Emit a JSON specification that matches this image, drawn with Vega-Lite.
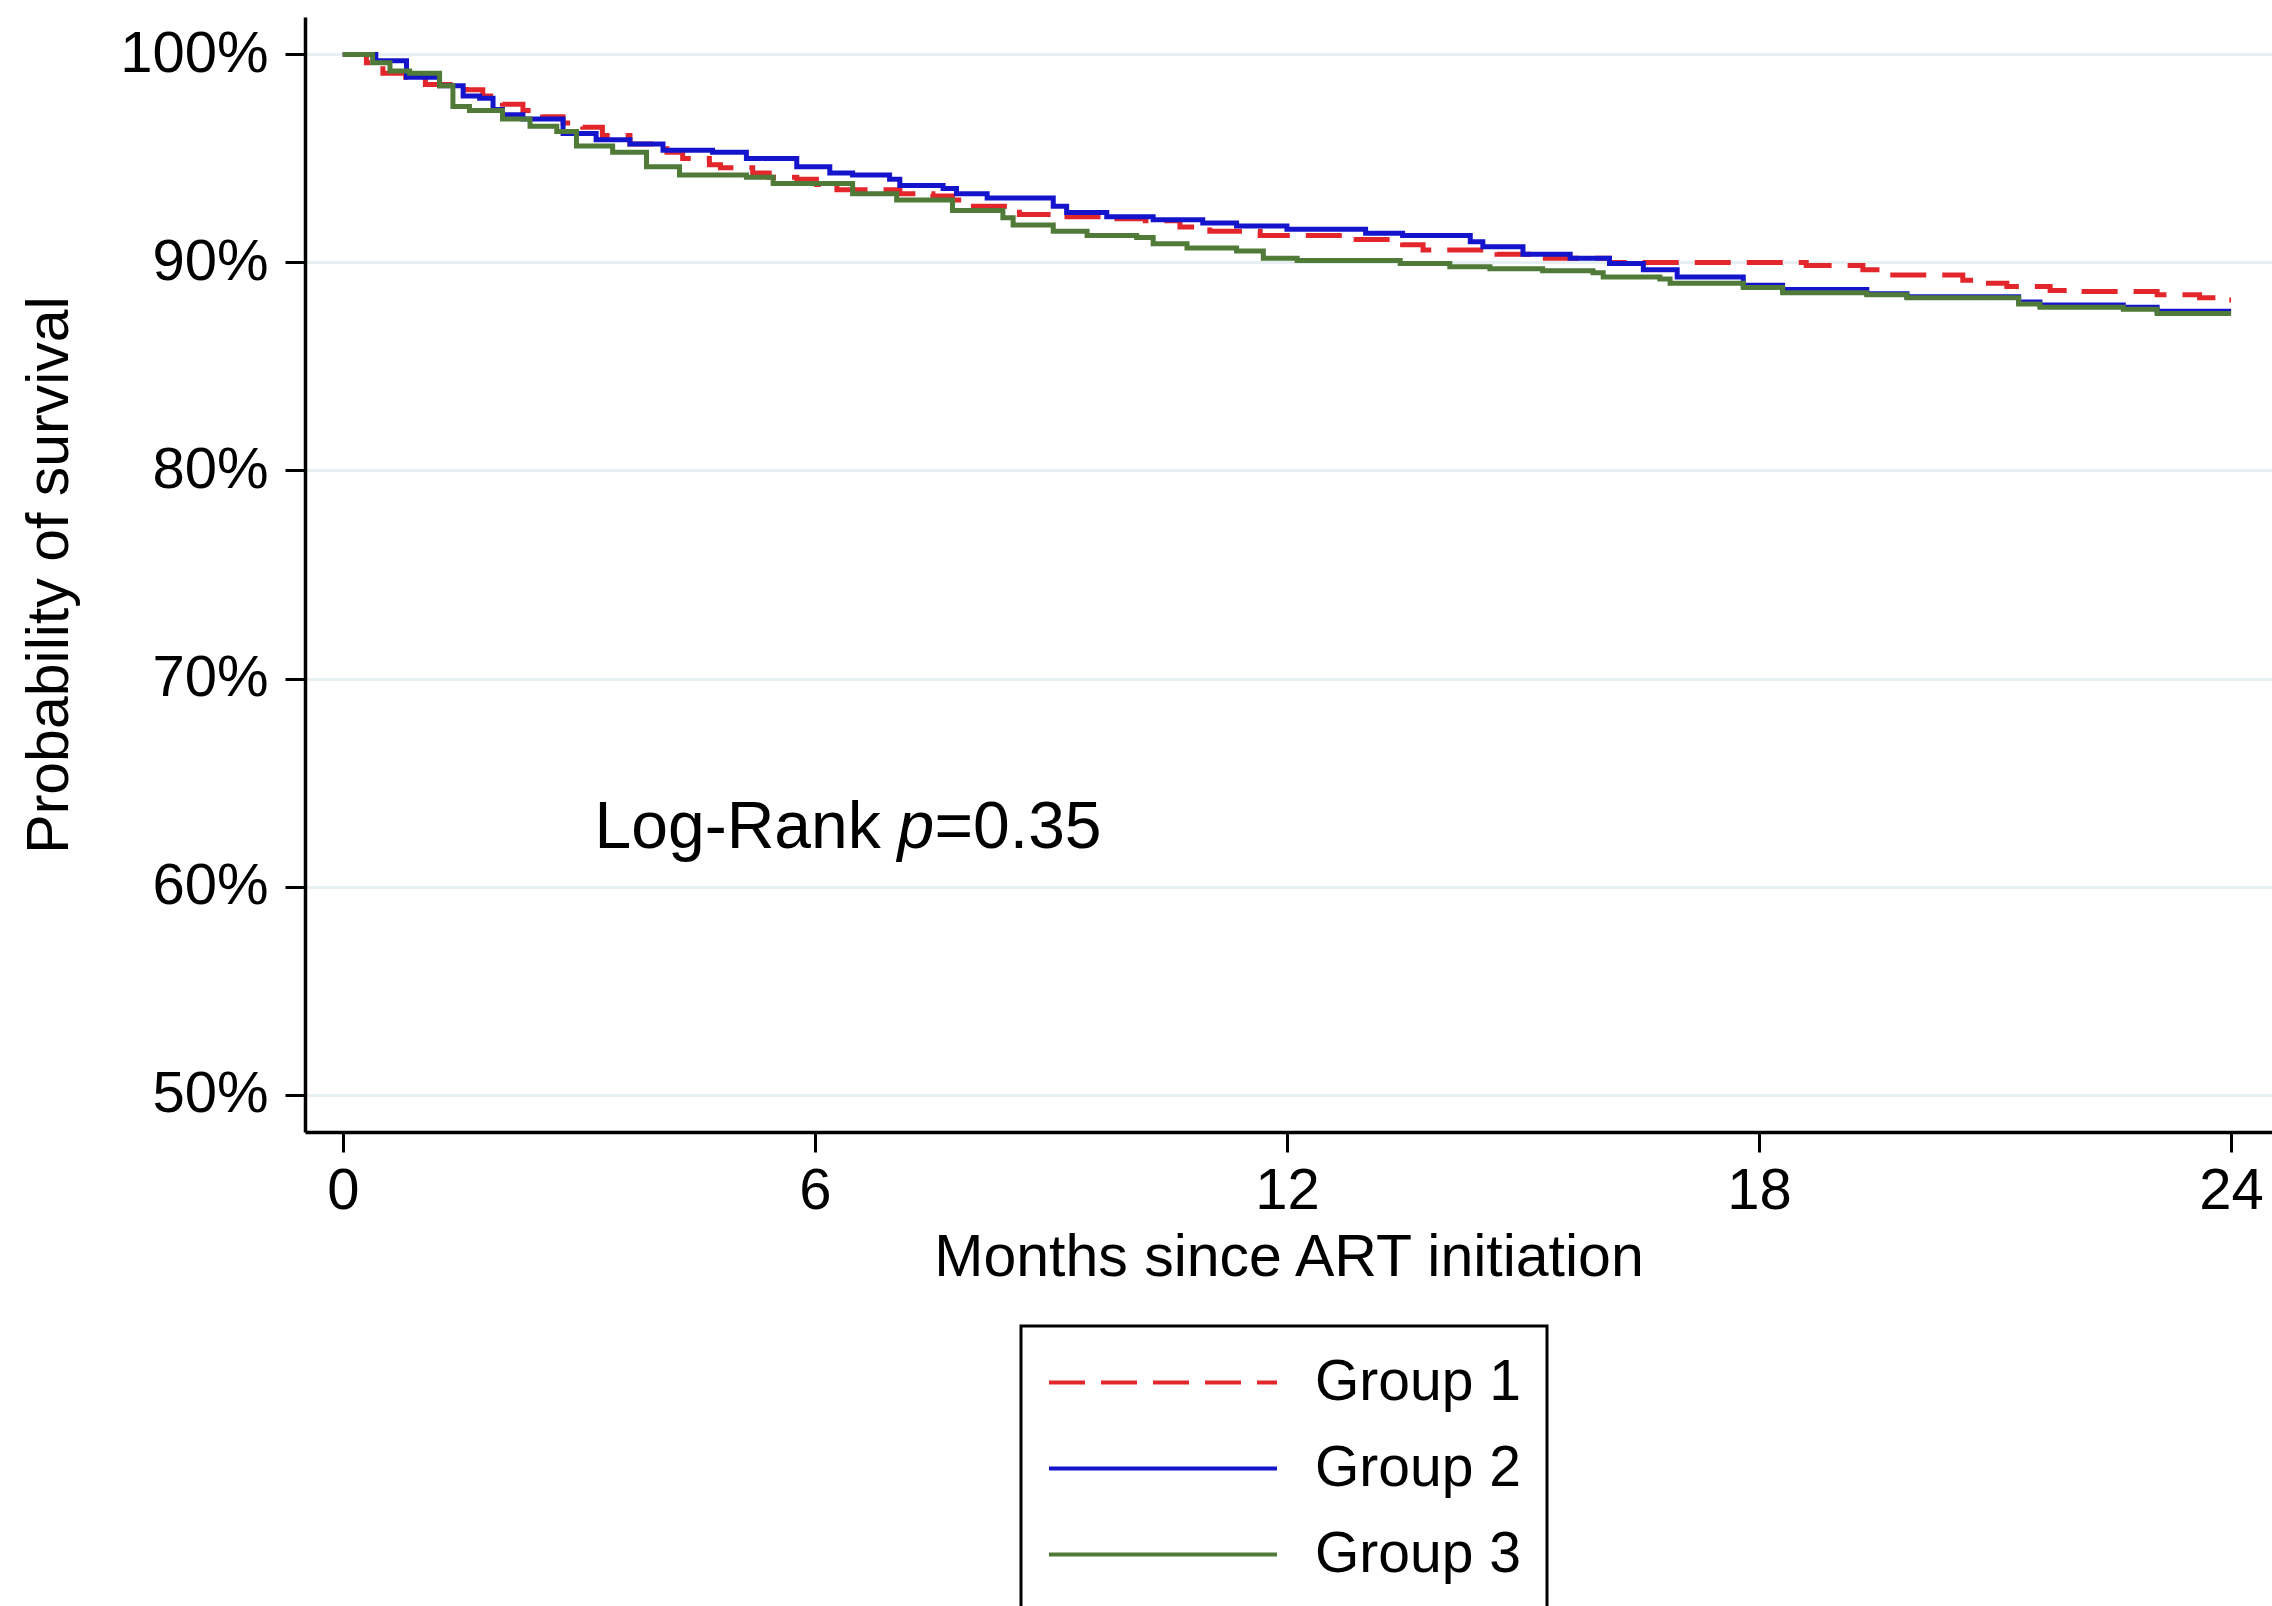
{
  "$schema": "https://vega.github.io/schema/vega-lite/v6.json",
  "autosize": {"type": "none"},
  "width": 1967,
  "height": 1115,
  "padding": {"left": 305, "top": 17, "right": 0, "bottom": 474},
  "background": "white",
  "config": {
    "view": {"stroke": null},
    "font": "Liberation Sans",
    "axis": {
      "labelFont": "Liberation Sans",
      "titleFont": "Liberation Sans",
      "labelColor": "black",
      "titleColor": "black",
      "titleFontWeight": "normal",
      "domainColor": "black",
      "domainWidth": 3.5,
      "tickColor": "black",
      "tickWidth": 3,
      "tickSize": 20,
      "labelFontSize": 58,
      "titleFontSize": 59
    },
    "legend": {
      "labelFont": "Liberation Sans",
      "labelFontSize": 57,
      "labelColor": "black",
      "labelLimit": 0
    }
  },
  "layer": [
    {
      "data": {
        "values": [
          {"month": 0, "surv": 100, "group": "Group 1"},
          {"month": 0.3, "surv": 99.6, "group": "Group 1"},
          {"month": 0.51, "surv": 99.1, "group": "Group 1"},
          {"month": 0.8, "surv": 98.9, "group": "Group 1"},
          {"month": 1.05, "surv": 98.55, "group": "Group 1"},
          {"month": 1.57, "surv": 98.3, "group": "Group 1"},
          {"month": 1.78, "surv": 98.0, "group": "Group 1"},
          {"month": 2.03, "surv": 97.6, "group": "Group 1"},
          {"month": 2.29, "surv": 97.3, "group": "Group 1"},
          {"month": 2.54, "surv": 97.0, "group": "Group 1"},
          {"month": 2.8, "surv": 96.7, "group": "Group 1"},
          {"month": 3.05, "surv": 96.5, "group": "Group 1"},
          {"month": 3.3, "surv": 96.1, "group": "Group 1"},
          {"month": 3.65, "surv": 95.7, "group": "Group 1"},
          {"month": 4.12, "surv": 95.3, "group": "Group 1"},
          {"month": 4.32, "surv": 95.0, "group": "Group 1"},
          {"month": 4.66, "surv": 94.7, "group": "Group 1"},
          {"month": 4.8, "surv": 94.55, "group": "Group 1"},
          {"month": 5.21, "surv": 94.3, "group": "Group 1"},
          {"month": 5.42, "surv": 94.1, "group": "Group 1"},
          {"month": 5.77, "surv": 94.0, "group": "Group 1"},
          {"month": 6.02, "surv": 93.75, "group": "Group 1"},
          {"month": 6.28, "surv": 93.5, "group": "Group 1"},
          {"month": 7.08, "surv": 93.3, "group": "Group 1"},
          {"month": 7.5, "surv": 93.2, "group": "Group 1"},
          {"month": 7.75, "surv": 93.0, "group": "Group 1"},
          {"month": 7.97, "surv": 92.7, "group": "Group 1"},
          {"month": 8.6, "surv": 92.3, "group": "Group 1"},
          {"month": 9.1, "surv": 92.2, "group": "Group 1"},
          {"month": 9.75, "surv": 92.1, "group": "Group 1"},
          {"month": 10.2, "surv": 92.0, "group": "Group 1"},
          {"month": 10.64, "surv": 91.7, "group": "Group 1"},
          {"month": 11.02, "surv": 91.5, "group": "Group 1"},
          {"month": 11.66, "surv": 91.3, "group": "Group 1"},
          {"month": 12.84, "surv": 91.1, "group": "Group 1"},
          {"month": 13.47, "surv": 90.85, "group": "Group 1"},
          {"month": 13.73, "surv": 90.6, "group": "Group 1"},
          {"month": 14.67, "surv": 90.4, "group": "Group 1"},
          {"month": 15.25, "surv": 90.2, "group": "Group 1"},
          {"month": 16.1, "surv": 90.0, "group": "Group 1"},
          {"month": 18.6, "surv": 89.85, "group": "Group 1"},
          {"month": 19.32, "surv": 89.65, "group": "Group 1"},
          {"month": 19.66, "surv": 89.4, "group": "Group 1"},
          {"month": 20.59, "surv": 89.15, "group": "Group 1"},
          {"month": 20.85, "surv": 89.0, "group": "Group 1"},
          {"month": 21.15, "surv": 88.85, "group": "Group 1"},
          {"month": 21.7, "surv": 88.65, "group": "Group 1"},
          {"month": 22.08, "surv": 88.6, "group": "Group 1"},
          {"month": 23.06, "surv": 88.45, "group": "Group 1"},
          {"month": 23.6, "surv": 88.3, "group": "Group 1"},
          {"month": 23.9, "surv": 88.2, "group": "Group 1"},
          {"month": 24.0, "surv": 88.2, "group": "Group 1"},

          {"month": 0, "surv": 100, "group": "Group 2"},
          {"month": 0.42, "surv": 99.7, "group": "Group 2"},
          {"month": 0.81, "surv": 98.9, "group": "Group 2"},
          {"month": 1.23, "surv": 98.5, "group": "Group 2"},
          {"month": 1.53, "surv": 98.0, "group": "Group 2"},
          {"month": 1.74, "surv": 97.9, "group": "Group 2"},
          {"month": 1.91, "surv": 97.35, "group": "Group 2"},
          {"month": 2.03, "surv": 97.1, "group": "Group 2"},
          {"month": 2.29, "surv": 96.9, "group": "Group 2"},
          {"month": 2.8, "surv": 96.2, "group": "Group 2"},
          {"month": 3.22, "surv": 95.9, "group": "Group 2"},
          {"month": 3.65, "surv": 95.7, "group": "Group 2"},
          {"month": 4.07, "surv": 95.4, "group": "Group 2"},
          {"month": 4.7, "surv": 95.3, "group": "Group 2"},
          {"month": 5.13, "surv": 95.0, "group": "Group 2"},
          {"month": 5.77, "surv": 94.6, "group": "Group 2"},
          {"month": 6.19, "surv": 94.3, "group": "Group 2"},
          {"month": 6.48, "surv": 94.2, "group": "Group 2"},
          {"month": 6.95, "surv": 94.0, "group": "Group 2"},
          {"month": 7.08, "surv": 93.7, "group": "Group 2"},
          {"month": 7.63, "surv": 93.55, "group": "Group 2"},
          {"month": 7.8, "surv": 93.3, "group": "Group 2"},
          {"month": 8.19, "surv": 93.1, "group": "Group 2"},
          {"month": 9.03, "surv": 92.7, "group": "Group 2"},
          {"month": 9.2, "surv": 92.4, "group": "Group 2"},
          {"month": 9.71, "surv": 92.2, "group": "Group 2"},
          {"month": 10.3, "surv": 92.05, "group": "Group 2"},
          {"month": 10.93, "surv": 91.9, "group": "Group 2"},
          {"month": 11.36, "surv": 91.75, "group": "Group 2"},
          {"month": 12.0, "surv": 91.6, "group": "Group 2"},
          {"month": 13.0, "surv": 91.4, "group": "Group 2"},
          {"month": 13.47, "surv": 91.3, "group": "Group 2"},
          {"month": 14.33, "surv": 91.0, "group": "Group 2"},
          {"month": 14.49, "surv": 90.75, "group": "Group 2"},
          {"month": 15.0, "surv": 90.4, "group": "Group 2"},
          {"month": 15.6, "surv": 90.2, "group": "Group 2"},
          {"month": 16.1, "surv": 89.95, "group": "Group 2"},
          {"month": 16.53, "surv": 89.65, "group": "Group 2"},
          {"month": 16.96, "surv": 89.3, "group": "Group 2"},
          {"month": 17.8, "surv": 88.9, "group": "Group 2"},
          {"month": 18.3, "surv": 88.7, "group": "Group 2"},
          {"month": 19.37, "surv": 88.5, "group": "Group 2"},
          {"month": 19.88, "surv": 88.35, "group": "Group 2"},
          {"month": 21.3, "surv": 88.1, "group": "Group 2"},
          {"month": 21.57, "surv": 87.95, "group": "Group 2"},
          {"month": 22.63, "surv": 87.85, "group": "Group 2"},
          {"month": 23.06, "surv": 87.65, "group": "Group 2"},
          {"month": 24.0, "surv": 87.65, "group": "Group 2"},

          {"month": 0, "surv": 100, "group": "Group 3"},
          {"month": 0.38, "surv": 99.6, "group": "Group 3"},
          {"month": 0.6, "surv": 99.2, "group": "Group 3"},
          {"month": 0.85, "surv": 99.1, "group": "Group 3"},
          {"month": 1.23, "surv": 98.5, "group": "Group 3"},
          {"month": 1.4, "surv": 97.5, "group": "Group 3"},
          {"month": 1.61, "surv": 97.3, "group": "Group 3"},
          {"month": 2.03, "surv": 96.9, "group": "Group 3"},
          {"month": 2.38, "surv": 96.55, "group": "Group 3"},
          {"month": 2.72, "surv": 96.3, "group": "Group 3"},
          {"month": 2.97, "surv": 95.6, "group": "Group 3"},
          {"month": 3.43, "surv": 95.3, "group": "Group 3"},
          {"month": 3.86, "surv": 94.6, "group": "Group 3"},
          {"month": 4.28, "surv": 94.2, "group": "Group 3"},
          {"month": 5.13, "surv": 94.1, "group": "Group 3"},
          {"month": 5.47, "surv": 93.8, "group": "Group 3"},
          {"month": 6.48, "surv": 93.3, "group": "Group 3"},
          {"month": 7.04, "surv": 93.0, "group": "Group 3"},
          {"month": 7.75, "surv": 92.5, "group": "Group 3"},
          {"month": 8.39, "surv": 92.15, "group": "Group 3"},
          {"month": 8.52, "surv": 91.8, "group": "Group 3"},
          {"month": 9.03, "surv": 91.5, "group": "Group 3"},
          {"month": 9.46, "surv": 91.3, "group": "Group 3"},
          {"month": 10.09, "surv": 91.2, "group": "Group 3"},
          {"month": 10.3, "surv": 90.9, "group": "Group 3"},
          {"month": 10.73, "surv": 90.7, "group": "Group 3"},
          {"month": 11.36, "surv": 90.55, "group": "Group 3"},
          {"month": 11.7, "surv": 90.2, "group": "Group 3"},
          {"month": 12.13, "surv": 90.1, "group": "Group 3"},
          {"month": 13.44, "surv": 89.95, "group": "Group 3"},
          {"month": 14.07, "surv": 89.8, "group": "Group 3"},
          {"month": 14.58, "surv": 89.7, "group": "Group 3"},
          {"month": 15.25, "surv": 89.6, "group": "Group 3"},
          {"month": 15.89, "surv": 89.5, "group": "Group 3"},
          {"month": 16.02, "surv": 89.3, "group": "Group 3"},
          {"month": 16.74, "surv": 89.2, "group": "Group 3"},
          {"month": 16.87, "surv": 89.0, "group": "Group 3"},
          {"month": 17.8, "surv": 88.8, "group": "Group 3"},
          {"month": 18.3, "surv": 88.55, "group": "Group 3"},
          {"month": 19.37, "surv": 88.45, "group": "Group 3"},
          {"month": 19.88, "surv": 88.3, "group": "Group 3"},
          {"month": 21.3, "surv": 88.0, "group": "Group 3"},
          {"month": 21.57, "surv": 87.85, "group": "Group 3"},
          {"month": 22.63, "surv": 87.75, "group": "Group 3"},
          {"month": 23.06, "surv": 87.55, "group": "Group 3"},
          {"month": 24.0, "surv": 87.55, "group": "Group 3"}
        ]
      },
      "mark": {"type": "line", "interpolate": "step-after", "strokeWidth": 5},
      "encoding": {
        "x": {
          "field": "month",
          "type": "quantitative",
          "scale": {"domain": [-0.48, 24.52], "nice": false, "zero": false},
          "axis": {
            "values": [0, 6, 12, 18, 24],
            "format": "d",
            "title": "Months since ART initiation",
            "grid": false,
            "labelPadding": 10,
            "titlePadding": 8,
            "labelFlush": false,
            "labelOverlap": false,
            "labelBound": false
          }
        },
        "y": {
          "field": "surv",
          "type": "quantitative",
          "scale": {"domain": [48.2, 101.8], "nice": false, "zero": false},
          "axis": {
            "values": [50, 60, 70, 80, 90, 100],
            "labelExpr": "datum.value + '%'",
            "title": "Probability of survival",
            "grid": true,
            "gridColor": "#e6eff1",
            "gridWidth": 3,
            "labelPadding": 17,
            "titlePadding": 40
          }
        },
        "color": {
          "field": "group",
          "type": "nominal",
          "scale": {"domain": ["Group 1", "Group 2", "Group 3"], "range": ["#e3262b", "#1414cc", "#4f7a38"]},
          "legend": {
            "title": null,
            "orient": "none",
            "legendX": 716,
            "legendY": 1309,
            "strokeColor": "black",
            "padding": 26,
            "rowPadding": 27,
            "symbolType": "M-1,0H7",
            "symbolSize": 3249,
            "symbolStrokeWidth": 4,
            "labelOffset": 207,
            "labelLimit": 0,
            "encode": {"legend": {"update": {"strokeWidth": {"value": 3}}}}
          }
        },
        "strokeDash": {
          "field": "group",
          "type": "nominal",
          "scale": {"domain": ["Group 1", "Group 2", "Group 3"], "range": [[36, 16], [1, 0], [1, 0]]},
          "legend": {
            "title": null,
            "orient": "none",
            "legendX": 716,
            "legendY": 1309,
            "strokeColor": "black",
            "padding": 26,
            "rowPadding": 27,
            "symbolType": "M-1,0H7",
            "symbolSize": 3249,
            "symbolStrokeWidth": 4,
            "labelOffset": 207,
            "labelLimit": 0,
            "encode": {"legend": {"update": {"strokeWidth": {"value": 3}}}}
          }
        }
      }
    },
    {
      "data": {"values": [{"month": 3.2, "surv": 61.85, "t1": "Log-Rank", "t2": "p", "t3": "=0.35"}]},
      "layer": [
        {
          "mark": {"type": "text", "align": "left", "baseline": "alphabetic", "fontSize": 66, "font": "Liberation Sans", "color": "black"},
          "encoding": {
            "x": {"field": "month", "type": "quantitative"},
            "y": {"field": "surv", "type": "quantitative"},
            "text": {"field": "t1"}
          }
        },
        {
          "mark": {"type": "text", "align": "left", "baseline": "alphabetic", "fontSize": 66, "font": "Liberation Sans", "fontStyle": "italic", "color": "black", "dx": 303},
          "encoding": {
            "x": {"field": "month", "type": "quantitative"},
            "y": {"field": "surv", "type": "quantitative"},
            "text": {"field": "t2"}
          }
        },
        {
          "mark": {"type": "text", "align": "left", "baseline": "alphabetic", "fontSize": 66, "font": "Liberation Sans", "color": "black", "dx": 340},
          "encoding": {
            "x": {"field": "month", "type": "quantitative"},
            "y": {"field": "surv", "type": "quantitative"},
            "text": {"field": "t3"}
          }
        }
      ]
    }
  ]
}
